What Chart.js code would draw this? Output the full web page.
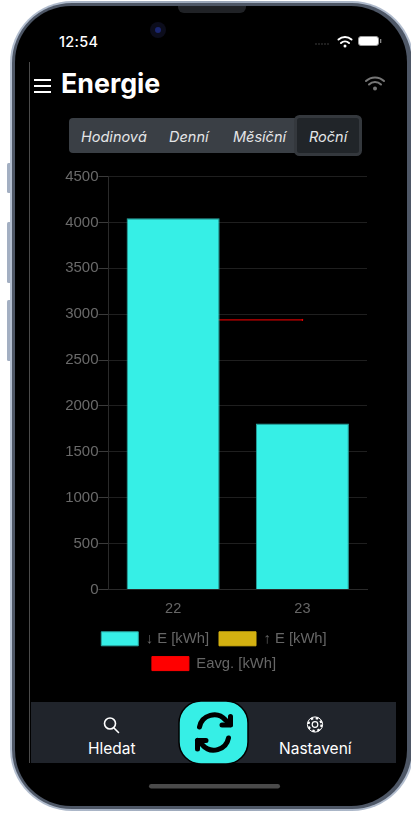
<!DOCTYPE html>
<html><head><meta charset="utf-8">
<script src="https://cdn.jsdelivr.net/npm/chart.js@4"></script>
<style>
html,body{margin:0;padding:0;background:#fff;width:411px;height:814px;overflow:hidden;font-family:"Liberation Sans",Arial,sans-serif}
.abs{position:absolute}
#frame{left:0;top:0}
#wrap{position:absolute;left:61px;top:166px;width:331px;height:521px}
.t{position:absolute;white-space:nowrap;color:#fff}
.seg{font-family:Inter,"Noto Sans",sans-serif;font-style:italic;font-size:14.5px;color:#e4e5e7;top:128px}
</style></head><body>
<svg id="frame" class="abs" width="411" height="814" viewBox="0 0 411 814">
<defs><linearGradient id="edge" x1="0" y1="0" x2="1" y2="0"><stop offset="0" stop-color="#b4bfd0"/><stop offset=".5" stop-color="#9aa6b8"/><stop offset="1" stop-color="#b4bfd0"/></linearGradient></defs>
<rect x="7" y="163" width="6" height="30" rx="1.5" fill="#a3afc2"/>
<rect x="7" y="222" width="6" height="61" rx="1.5" fill="#a3afc2"/>
<rect x="7" y="300" width="6" height="61" rx="1.5" fill="#a3afc2"/>
<rect x="10" y="1" width="404" height="810" rx="62" fill="url(#edge)"/>
<rect x="12" y="3" width="400" height="806" rx="60" fill="#4e5766"/>
<rect x="15" y="6" width="392" height="800" rx="56" fill="#000"/>
<path d="M178 6h68v1a6 6 0 0 1-6 6h-56a6 6 0 0 1-6-6z" fill="#202226"/>
<circle cx="158" cy="30" r="8" fill="#0c0d1c"/><circle cx="158" cy="30" r="3" fill="#1a2670"/>
<line x1="29.5" y1="62" x2="29.5" y2="763" stroke="#4a4a4a" stroke-width="1"/>
<g fill="#fff"><rect x="34" y="79" width="17" height="2"/><rect x="34" y="85" width="17" height="2"/><rect x="34" y="91" width="17" height="2"/></g>
<g fill="#555"><circle cx="316" cy="44" r=".7"/><circle cx="319" cy="44" r=".7"/><circle cx="322" cy="44" r=".7"/><circle cx="325" cy="44" r=".7"/><circle cx="328" cy="44" r=".7"/></g>
<g fill="none" stroke="#fff" stroke-width="2" stroke-linecap="round"><path d="M338.5 39.500a10 10 0 0 1 13 0"/><path d="M341 43a6 6 0 0 1 8 0"/></g><circle cx="345" cy="46" r="1.5" fill="#fff"/>
<rect x="358.500" y="36.500" width="20" height="9" rx="2.500" fill="#fff" stroke="#999"/><rect x="380" y="39" width="1.300" height="4" fill="#888"/>
<g fill="none" stroke="#777" stroke-width="2" stroke-linecap="round"><path d="M366 81a13 13 0 0 1 18 0"/><path d="M369 84.500a8.500 8.500 0 0 1 12 0"/></g><circle cx="375" cy="88.500" r="2" fill="#777"/>
<rect x="69" y="118" width="289" height="35" rx="4" fill="#3a3f45"/>
<rect x="295.500" y="116.500" width="65" height="38" rx="4" fill="#212529" stroke="#34383d" stroke-width="3"/>
<rect x="31" y="702" width="365" height="61" fill="#20242b"/>
<rect x="179" y="701" width="69" height="63" rx="22" fill="#36efe6" stroke="#000" stroke-width="1.500"/>
<g fill="none" stroke="#000" stroke-width="5" stroke-linecap="round" stroke-linejoin="round">
<path d="M199.500 727a15 15 0 0 1 26-7l5 4.500"/><path d="M230.500 716.500v8.500h-8.500"/>
<path d="M228.500 738a15 15 0 0 1-26 7l-5-4.500"/><path d="M197.500 749v-8.500h8.500"/></g>
<g fill="none" stroke="#fff" stroke-width="1.600" stroke-linecap="round"><circle cx="110" cy="723.500" r="5.500"/><path d="M114 728l4.500 4.500"/></g>
<g fill="none" stroke="#fff" stroke-width="1.200"><circle cx="315" cy="724.500" r="2.800"/><circle cx="315" cy="724.500" r="6.500" stroke-width="2.200" stroke-dasharray="2.500 2.600"/><circle cx="315" cy="724.500" r="7.600" stroke-width="1"/></g>
<rect x="149" y="784" width="131" height="4.500" rx="2.200" fill="#4a4a4a"/>
</svg>
<div class="t" style="left:59px;top:33px;font:500 14.5px Inter,sans-serif;letter-spacing:.3px">12:54</div>
<div class="t" style="left:61px;top:67px;font:700 26.800px Inter,sans-serif">Energie</div>
<div class="t seg" style="left:81px">Hodinová</div>
<div class="t seg" style="left:169px">Denní</div>
<div class="t seg" style="left:233px">Měsíční</div>
<div class="t seg" style="left:309px">Roční</div>
<div class="t" style="left:88px;top:739px;font:15.500px Inter,sans-serif">Hledat</div>
<div class="t" style="left:279px;top:739px;font:15.500px Inter,sans-serif">Nastavení</div>
<div id="wrap"><canvas id="c"></canvas></div>
<script>
const categories = ["22", "23"];
const importKwh = [4046, 1808];
const exportKwh = [0, 0];
const avgKwh = [2937, 2937];
const seriesNames = ["↓ E [kWh]", "↑ E [kWh]", "Eavg. [kWh]"];
const yTicks = [0, 500, 1000, 1500, 2000, 2500, 3000, 3500, 4000, 4500];

new Chart(document.getElementById("c"), {
  data: {
    labels: categories,
    datasets: [
      {type:"bar", label:seriesNames[0], data:importKwh, backgroundColor:"#36efe6", borderColor:"#2aa8a3", borderWidth:1, order:2},
      {type:"bar", label:seriesNames[1], data:exportKwh, backgroundColor:"#d4b111", borderColor:"#d4b111", borderWidth:1, order:2},
      {type:"line", label:seriesNames[2], data:avgKwh, borderColor:"#ff0000", backgroundColor:"#ff0000", borderWidth:1, pointRadius:0.5, order:3}
    ]
  },
  options: {
    responsive:true, maintainAspectRatio:false, animation:false,
    layout:{padding:{left:0,right:25,top:10.500,bottom:6}},
    scales:{
      x:{stacked:true, categoryPercentage:.8, barPercentage:.88,
        grid:{display:false},
        border:{color:"#2a2a2a"},
        afterFit(a){a.height=32;},
        ticks:{color:"#666",font:{size:14.500,family:"'Liberation Sans'"},padding:2.500}},
      y:{stacked:true, min:0, max:4500,
        afterBuildTicks(a){a.ticks=yTicks.map(v=>({value:v}));},
        afterFit(a){a.width=47.500;},
        grid:{color:"#1f1f1f",tickColor:"#3a3a3a",tickLength:10},
        border:{color:"#2a2a2a"},
        ticks:{color:"#6a6a6a",font:{size:15,family:"'Liberation Sans'"},padding:0,callback:v=>String(v)}}
    },
    plugins:{
      tooltip:{enabled:false},
      legend:{position:"bottom",
        labels:{boxWidth:37,boxHeight:14,color:"#666",font:{size:14.800,family:"'Liberation Sans'"},padding:10}}
    }
  }
});
</script>
</body></html>
